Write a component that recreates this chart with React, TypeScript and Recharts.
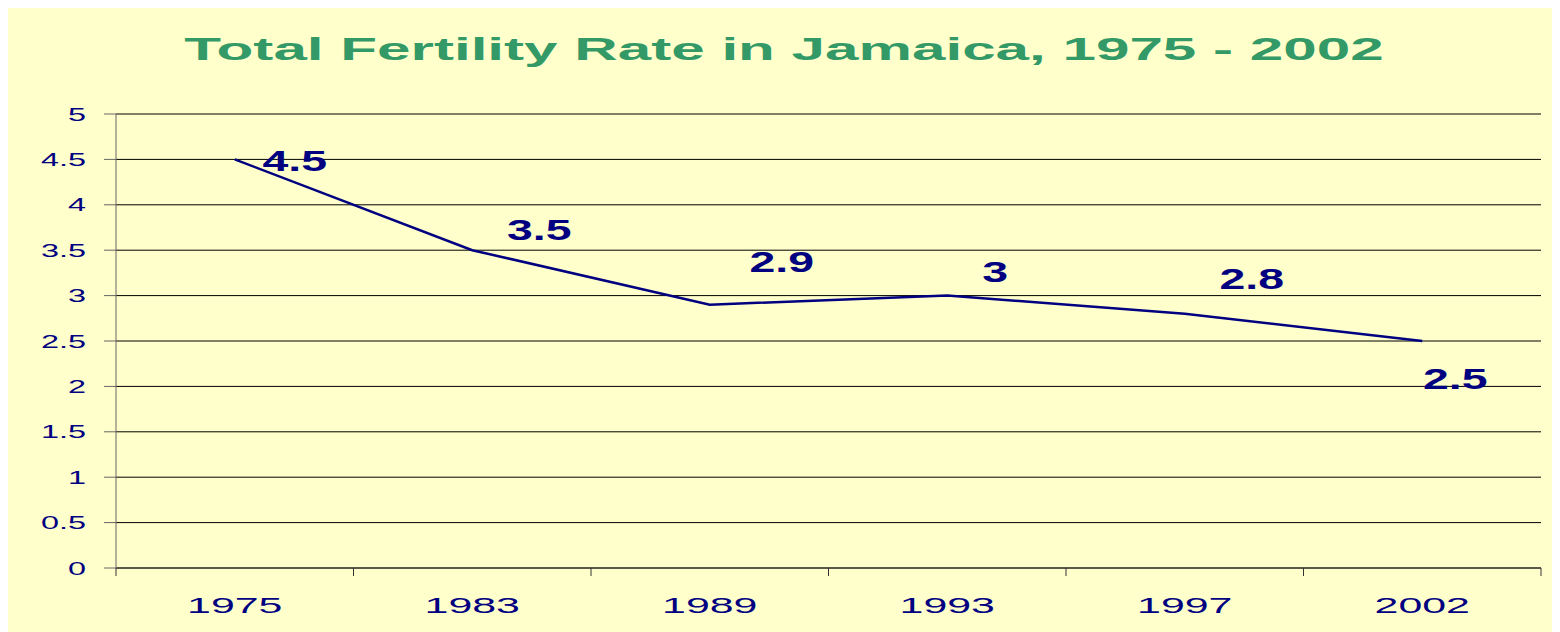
import { LineChart, Line, XAxis, YAxis, CartesianGrid, LabelList } from 'recharts';

const years = ['1975', '1983', '1989', '1993', '1997', '2002'];
const fertility = [4.5, 3.5, 2.9, 3, 2.8, 2.5];
const yTicks = [0, 0.5, 1, 1.5, 2, 2.5, 3, 3.5, 4, 4.5, 5];

// where each value label sits relative to its point (dx, dy of label centre)
const labelOffsets = [[60, 1], [67, -21], [72, -43], [48, -24], [67, -35], [33, 38]];

const data = years.map((year, i) => ({ year, tfr: fertility[i] }));

const W = 1552;
const H = 624;
const margin = { top: 106, right: 19, left: 0, bottom: 24 };
const yAxisWidth = 108;
const bandWidth = (W - margin.left - margin.right - yAxisWidth) / years.length;

const FONT = '"Liberation Sans", Arial, sans-serif';
const NAVY = '#000080';

const YTick = (props: any) => {
    const { x, y, payload } = props;
    return (
        <g transform={`translate(${x},${y}) scale(1.8,1)`}>
            <text x={0} y={0} dy={6.5} textAnchor="end" fill={NAVY} fontSize={18} fontFamily={FONT}>
                {payload.value}
            </text>
        </g>
    );
};

const XTick = (props: any) => {
    const { x, y, payload, index } = props;
    const axisY = y - 8;
    return (
        <g>
            <line x1={x - bandWidth / 2} x2={x - bandWidth / 2} y1={axisY} y2={axisY + 8} stroke="#333" />
            {index === years.length - 1 && (
                <line x1={x + bandWidth / 2} x2={x + bandWidth / 2} y1={axisY} y2={axisY + 8} stroke="#333" />
            )}
            <g transform={`translate(${x},${axisY + 45}) scale(1.95,1)`}>
                <text x={0} y={0} textAnchor="middle" fill={NAVY} fontSize={22} fontFamily={FONT}>
                    {payload.value}
                </text>
            </g>
        </g>
    );
};

const ValueLabel = (props: any) => {
    const { x, y, value, index } = props;
    const [dx, dy] = labelOffsets[index] || [0, 0];
    return (
        <g transform={`translate(${x + dx},${y + dy}) scale(1.6,1)`}>
            <text x={0} y={0} dy={10.4} textAnchor="middle" fill={NAVY} fontSize={29} fontWeight={700} fontFamily={FONT}>
                {value}
            </text>
        </g>
    );
};

export default function App() {
    return (
        <div style={{ position: 'relative', width: W, height: H, background: '#FFFFCC' }}>
            <div style={{ position: 'absolute', top: 25, left: 0, width: W, textAlign: 'center', lineHeight: '32px' }}>
                <span style={{
                    display: 'inline-block', transform: 'scaleX(1.88)', fontFamily: FONT, fontWeight: 700,
                    fontSize: 32, color: '#339966',
                }}>
                    Total Fertility Rate in Jamaica, 1975 - 2002
                </span>
            </div>
            <LineChart width={W} height={H} data={data} margin={margin} style={{ position: 'absolute', top: 0, left: 0 }}>
                <CartesianGrid vertical={false} stroke="#000" strokeOpacity={1} />
                <XAxis
                    dataKey="year"
                    height={40}
                    padding={{ left: bandWidth / 2, right: bandWidth / 2 }}
                    axisLine={{ stroke: '#333' }}
                    tickLine={false}
                    tickSize={8}
                    tickMargin={0}
                    tick={<XTick />}
                    interval={0}
                />
                <YAxis
                    width={yAxisWidth}
                    domain={[0, 5]}
                    ticks={yTicks}
                    interval={0}
                    axisLine={{ stroke: '#666' }}
                    tickLine={{ stroke: '#666' }}
                    tickSize={12}
                    tickMargin={18}
                    tick={<YTick />}
                />
                <Line
                    type="linear"
                    dataKey="tfr"
                    stroke={NAVY}
                    strokeWidth={2.5}
                    dot={false}
                    isAnimationActive={false}
                >
                    <LabelList dataKey="tfr" content={<ValueLabel />} />
                </Line>
            </LineChart>
        </div>
    );
}
